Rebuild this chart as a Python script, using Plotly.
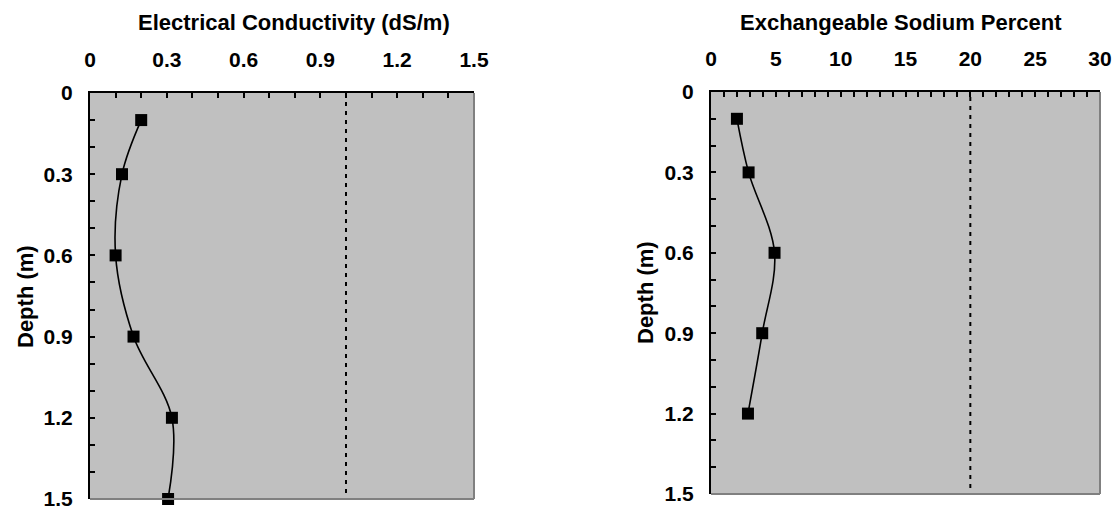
import plotly.graph_objects as go

# ---- data ----
depth_ec = [0.1, 0.3, 0.6, 0.9, 1.2, 1.5]
ec_values = [0.20, 0.125, 0.10, 0.17, 0.32, 0.305]
ec_threshold = 1.0

depth_esp = [0.1, 0.3, 0.6, 0.9, 1.2]
esp_values = [2.0, 2.9, 4.9, 3.95, 2.85]
esp_threshold = 20

ec_ticks = [0, 0.3, 0.6, 0.9, 1.2, 1.5]
ec_ticklabels = ["0", "0.3", "0.6", "0.9", "1.2", "1.5"]
esp_ticks = [0, 5, 10, 15, 20, 25, 30]
depth_ticks = [0, 0.3, 0.6, 0.9, 1.2, 1.5]
depth_ticklabels = ["0", "0.3", "0.6", "0.9", "1.2", "1.5"]

FONT = "Liberation Sans, Arial, sans-serif"
W, H = 1116, 508


def px_x(v):
    return v / W


def px_y(v):
    return 1 - v / H


fig = go.Figure()

fig.add_trace(go.Scatter(
    x=ec_values, y=depth_ec, mode="lines+markers",
    line=dict(color="black", width=1.6, shape="spline", smoothing=1.0),
    marker=dict(symbol="square", size=12, color="black"),
    xaxis="x", yaxis="y", showlegend=False, cliponaxis=False))

fig.add_trace(go.Scatter(
    x=esp_values, y=depth_esp, mode="lines+markers",
    line=dict(color="black", width=1.6, shape="spline", smoothing=1.0),
    marker=dict(symbol="square", size=12, color="black"),
    xaxis="x2", yaxis="y2", showlegend=False, cliponaxis=False))

tickfont = dict(family=FONT, size=21, color="black", weight="bold")


def xax(domain, rng, tickvals, ticktext, minor_dtick, anchor):
    return dict(domain=domain, range=rng, side="top", anchor=anchor,
                tickvals=tickvals, ticktext=ticktext,
                ticks="inside", ticklen=5, tickwidth=2, tickcolor="black",
                minor=dict(dtick=minor_dtick, ticks="inside", ticklen=5,
                           tickwidth=2, tickcolor="black", showgrid=False),
                showline=True, linecolor="black", linewidth=2,
                showgrid=False, zeroline=False, tickfont=tickfont,
                ticklabelstandoff=16, ticklabeloverflow="allow",
                automargin=False, fixedrange=True)


def yax(domain, anchor):
    return dict(domain=domain, range=[1.5, 0], anchor=anchor,
                tickvals=depth_ticks, ticktext=depth_ticklabels,
                ticks="inside", ticklen=5, tickwidth=2, tickcolor="black",
                minor=dict(dtick=0.1, ticks="inside", ticklen=5,
                           tickwidth=2, tickcolor="black", showgrid=False),
                showline=True, linecolor="black", linewidth=2,
                showgrid=False, zeroline=False, tickfont=tickfont,
                ticklabelstandoff=11, ticklabeloverflow="allow",
                automargin=False, fixedrange=True)


fig.update_layout(
    width=W, height=H,
    margin=dict(l=0, r=0, t=0, b=0, autoexpand=False),
    paper_bgcolor="white", plot_bgcolor="#C0C0C0",
    font=dict(family=FONT, color="black"),
    xaxis=xax([px_x(90), px_x(474)], [0, 1.5], ec_ticks, ec_ticklabels, 0.1, "y"),
    yaxis=yax([px_y(499), px_y(93)], "x"),
    xaxis2=xax([px_x(711), px_x(1100)], [0, 30], esp_ticks,
               [str(v) for v in esp_ticks], 1, "y2"),
    yaxis2=yax([px_y(494), px_y(92)], "x2"),
)

# right and bottom edges of each plot area are grey
for xr, yr in (("x", "y"), ("x2", "y2")):
    fig.add_shape(type="line", xref=f"{xr} domain", yref=f"{yr} domain",
                  x0=1, x1=1, y0=0, y1=1, line=dict(color="#808080", width=2))
    fig.add_shape(type="line", xref=f"{xr} domain", yref=f"{yr} domain",
                  x0=0, x1=1, y0=0, y1=0, line=dict(color="#808080", width=2))

# threshold dashed lines
fig.add_shape(type="line", xref="x", yref="y domain", x0=ec_threshold, x1=ec_threshold,
              y0=0.015, y1=1, line=dict(color="black", width=2, dash="4px,5px"))
fig.add_shape(type="line", xref="x2", yref="y2 domain", x0=esp_threshold, x1=esp_threshold,
              y0=0.015, y1=1, line=dict(color="black", width=2, dash="4px,5px"))

titlefont = dict(family=FONT, size=22, color="black", weight="bold")
fig.add_annotation(text="Electrical Conductivity (dS/m)", xref="paper", yref="paper",
                   x=px_x(294), y=px_y(22), showarrow=False, font=titlefont,
                   xanchor="center", yanchor="middle")
fig.add_annotation(text="Exchangeable Sodium Percent", xref="paper", yref="paper",
                   x=px_x(901), y=px_y(22), showarrow=False, font=titlefont,
                   xanchor="center", yanchor="middle")
fig.add_annotation(text="Depth (m)", xref="paper", yref="paper",
                   x=px_x(25), y=px_y(297), showarrow=False, font=titlefont,
                   textangle=-90, xanchor="center", yanchor="middle")
fig.add_annotation(text="Depth (m)", xref="paper", yref="paper",
                   x=px_x(645), y=px_y(293), showarrow=False, font=titlefont,
                   textangle=-90, xanchor="center", yanchor="middle")

fig.write_html("out.html", config={"displayModeBar": False},
               post_script="document.body.style.margin='0';document.body.style.overflow='hidden';")
